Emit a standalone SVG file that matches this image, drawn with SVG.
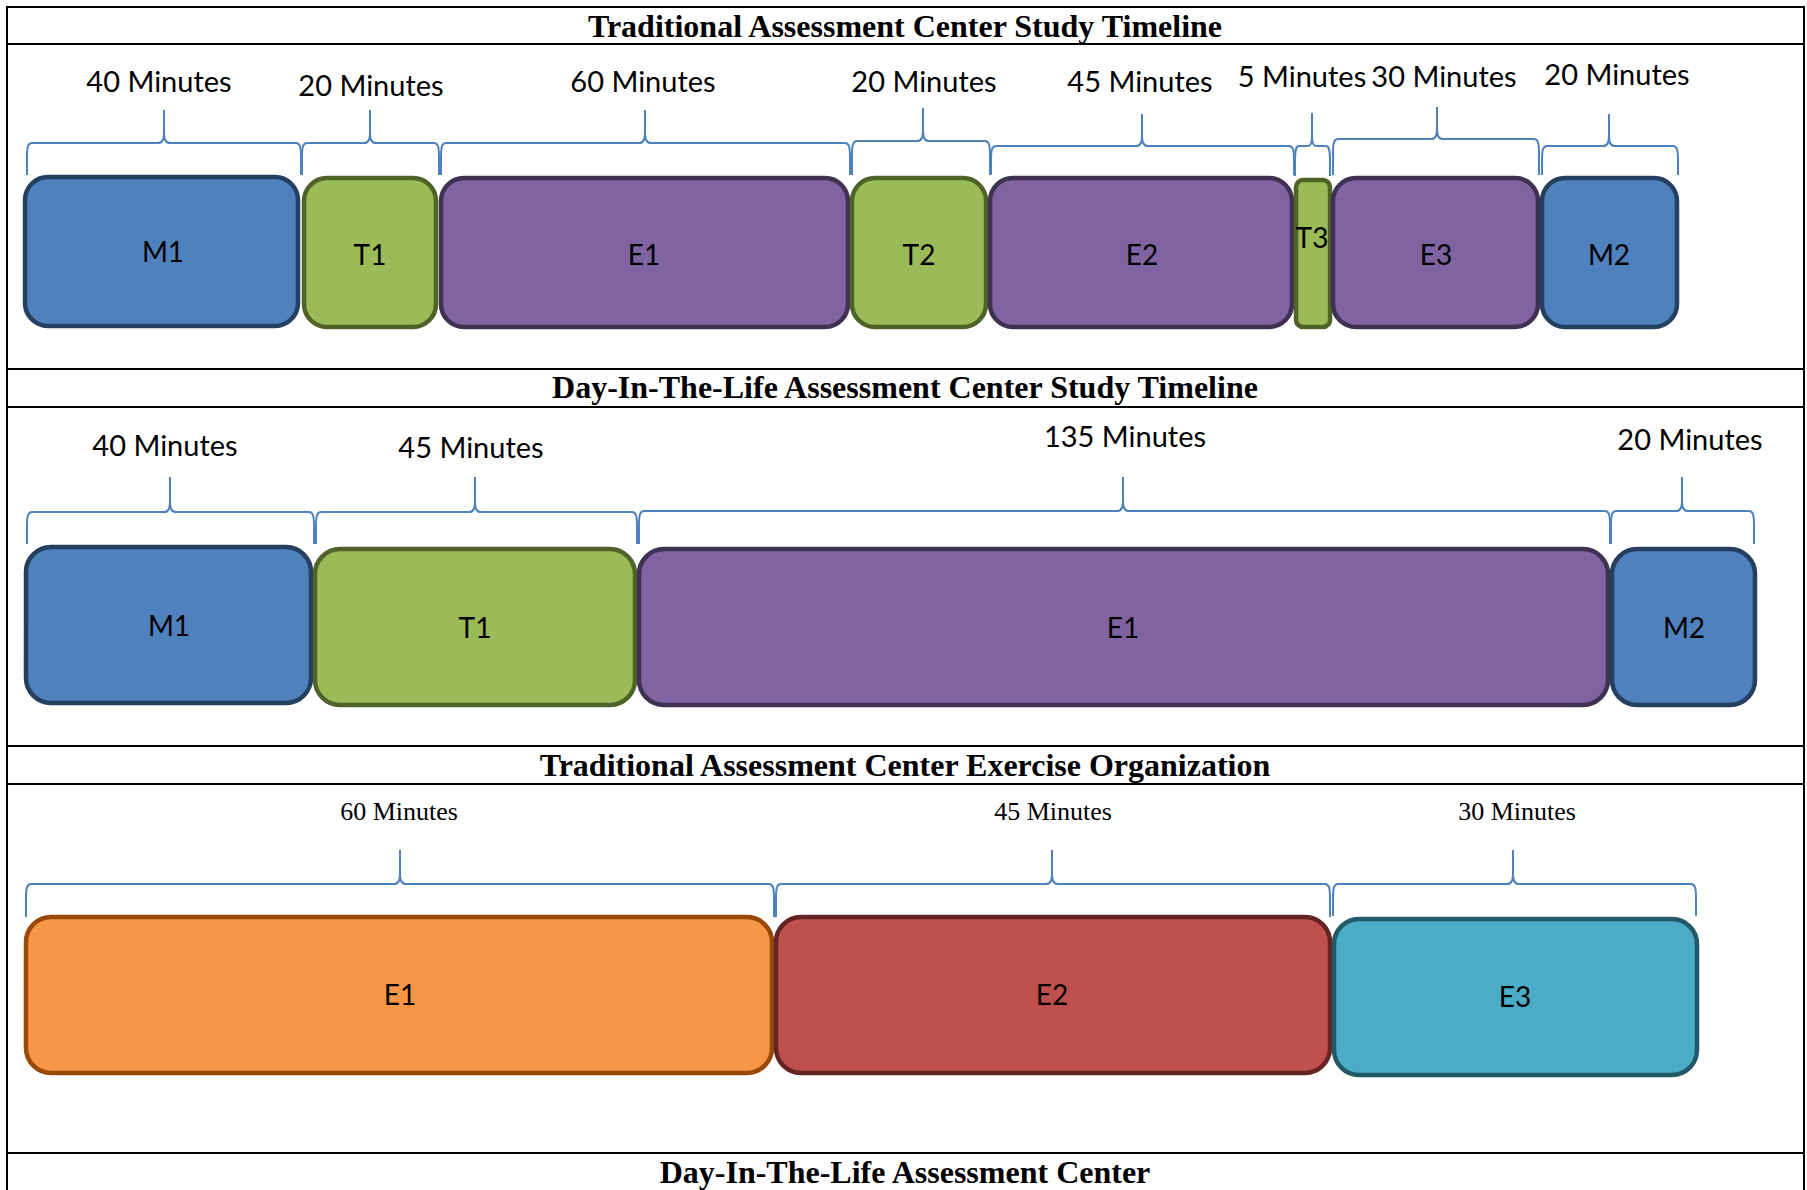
<svg xmlns="http://www.w3.org/2000/svg" width="1807" height="1190" viewBox="0 0 1807 1190">
<style>
.frame{fill:none;stroke:#000;stroke-width:2}
.title{font-family:"Liberation Serif","Times New Roman",serif;font-weight:bold;font-size:32px;fill:#000;text-anchor:middle}
.dur{font-family:Lato,"Liberation Sans",sans-serif;font-size:29px;fill:#000;text-anchor:middle}
.durs{font-family:"Liberation Serif","Times New Roman",serif;font-size:26px;fill:#000;text-anchor:middle}
.lbl{font-family:Lato,"Liberation Sans",sans-serif;font-size:28px;fill:#000;text-anchor:middle}
.brace{fill:none;stroke:#4F81BD;stroke-width:2}
.box{stroke-width:4.5}
.blue{fill:#4F81BD;stroke:#243F60}
.green{fill:#9BBB59;stroke:#4F6228}
.purple{fill:#8064A2;stroke:#3F3151}
.orange{fill:#F79646;stroke:#984807}
.red{fill:#C0504D;stroke:#632423}
.teal{fill:#4BACC6;stroke:#215968}
</style>
<rect width="1807" height="1190" fill="#fff"/>
<g id="frame">
<rect class="frame" x="7" y="7" width="1797" height="1200"/>
<line class="frame" x1="7" y1="44" x2="1804" y2="44"/>
<line class="frame" x1="7" y1="369" x2="1804" y2="369"/>
<line class="frame" x1="7" y1="407" x2="1804" y2="407"/>
<line class="frame" x1="7" y1="746" x2="1804" y2="746"/>
<line class="frame" x1="7" y1="784" x2="1804" y2="784"/>
<line class="frame" x1="7" y1="1153" x2="1804" y2="1153"/>
</g>
<g id="titles">
<text class="title" x="905" y="37">Traditional Assessment Center Study Timeline</text>
<text class="title" x="905" y="398">Day-In-The-Life Assessment Center Study Timeline</text>
<text class="title" x="905" y="776">Traditional Assessment Center Exercise Organization</text>
<text class="title" x="905" y="1183">Day-In-The-Life Assessment Center</text>
</g>
<g id="connectors">
<path class="brace" d="M27,175 L27,157 C27,147 28,143 32,143 L158,143 C163,143 164,139 164,131 L164,110 L164,131 C164,139 165,143 170,143 L296,143 C300,143 301,147 301,157 L301,175"/>
<path class="brace" d="M302,175 L302,157 C302,147 303,143 307,143 L364,143 C369,143 370,139 370,131 L370,110 L370,131 C370,139 371,143 376,143 L434,143 C438,143 439,147 439,157 L439,175"/>
<path class="brace" d="M441,175 L441,157 C441,147 442,143 446,143 L639,143 C644,143 645,139 645,131 L645,110 L645,131 C645,139 646,143 651,143 L845,143 C849,143 850,147 850,157 L850,175"/>
<path class="brace" d="M852,175 L852,155 C852,145 853,141 857,141 L917,141 C922,141 923,137 923,129 L923,108 L923,129 C923,137 924,141 929,141 L985,141 C989,141 990,145 990,155 L990,175"/>
<path class="brace" d="M991,175 L991,160 C991,150 992,146 996,146 L1136,146 C1141,146 1142,142 1142,134 L1142,114 L1142,134 C1142,142 1143,146 1148,146 L1289,146 C1293,146 1294,150 1294,160 L1294,175"/>
<path class="brace" d="M1295,176 L1295,160 C1295,150 1296,146 1299,146 L1308,146 C1311,146 1312,142 1312,136 L1312,113 L1312,136 C1312,142 1313,146 1316,146 L1326,146 C1329,146 1330,150 1330,160 L1330,176"/>
<path class="brace" d="M1333,175 L1333,153 C1333,143 1334,139 1338,139 L1431,139 C1436,139 1437,135 1437,127 L1437,107 L1437,127 C1437,135 1438,139 1443,139 L1534,139 C1538,139 1539,143 1539,153 L1539,175"/>
<path class="brace" d="M1542,175 L1542,160 C1542,150 1543,146 1547,146 L1603,146 C1608,146 1609,142 1609,134 L1609,114 L1609,134 C1609,142 1610,146 1615,146 L1673,146 C1677,146 1678,150 1678,160 L1678,175"/>
<path class="brace" d="M27,544 L27,526 C27,516 28,512 32,512 L164,512 C169,512 170,508 170,500 L170,477 L170,500 C170,508 171,512 176,512 L309,512 C313,512 314,516 314,526 L314,544"/>
<path class="brace" d="M316,544 L316,526 C316,516 317,512 321,512 L469,512 C474,512 475,508 475,500 L475,477 L475,500 C475,508 476,512 481,512 L632,512 C636,512 637,516 637,526 L637,544"/>
<path class="brace" d="M639,544 L639,525 C639,515 640,511 644,511 L1117,511 C1122,511 1123,507 1123,499 L1123,477 L1123,499 C1123,507 1124,511 1129,511 L1605,511 C1609,511 1610,515 1610,525 L1610,544"/>
<path class="brace" d="M1611,544 L1611,525 C1611,515 1612,511 1616,511 L1676,511 C1681,511 1682,507 1682,499 L1682,477 L1682,499 C1682,507 1683,511 1688,511 L1749,511 C1753,511 1754,515 1754,525 L1754,544"/>
<path class="brace" d="M26,917 L26,898 C26,888 27,884 31,884 L394,884 C399,884 400,880 400,872 L400,850 L400,872 C400,880 401,884 406,884 L769,884 C773,884 774,888 774,898 L774,917"/>
<path class="brace" d="M776,917 L776,898 C776,888 777,884 781,884 L1046,884 C1051,884 1052,880 1052,872 L1052,850 L1052,872 C1052,880 1053,884 1058,884 L1325,884 C1329,884 1330,888 1330,898 L1330,917"/>
<path class="brace" d="M1333,916 L1333,898 C1333,888 1334,884 1338,884 L1507,884 C1512,884 1513,880 1513,872 L1513,850 L1513,872 C1513,880 1514,884 1519,884 L1691,884 C1695,884 1696,888 1696,898 L1696,916"/>
</g>
<g id="durations">
<text class="dur" x="159" y="92">40 Minutes</text>
<text class="dur" x="371" y="96">20 Minutes</text>
<text class="dur" x="643" y="92">60 Minutes</text>
<text class="dur" x="924" y="92">20 Minutes</text>
<text class="dur" x="1140" y="92">45 Minutes</text>
<text class="dur" x="1302" y="87">5 Minutes</text>
<text class="dur" x="1444" y="87">30 Minutes</text>
<text class="dur" x="1617" y="85">20 Minutes</text>
<text class="dur" x="165" y="456">40 Minutes</text>
<text class="dur" x="471" y="458">45 Minutes</text>
<text class="dur" x="1125" y="447">135 Minutes</text>
<text class="dur" x="1690" y="450">20 Minutes</text>
<text class="durs" x="399" y="820">60 Minutes</text>
<text class="durs" x="1053" y="820">45 Minutes</text>
<text class="durs" x="1517" y="820">30 Minutes</text>
</g>
<g id="r1-M1"><rect class="box blue" x="25" y="177" width="273" height="149" rx="23"/><text class="lbl" x="163" y="262">M1</text></g>
<g id="r1-T1"><rect class="box green" x="304" y="178" width="132" height="149" rx="23"/><text class="lbl" x="370" y="265">T1</text></g>
<g id="r1-E1"><rect class="box purple" x="441" y="178" width="407" height="149" rx="23"/><text class="lbl" x="644" y="265">E1</text></g>
<g id="r1-T2"><rect class="box green" x="852" y="178" width="134" height="149" rx="23"/><text class="lbl" x="919" y="265">T2</text></g>
<g id="r1-E2"><rect class="box purple" x="990" y="178" width="302" height="149" rx="23"/><text class="lbl" x="1142" y="265">E2</text></g>
<g id="r1-T3"><rect class="box green" x="1296" y="180" width="34" height="147" rx="7"/><text class="lbl" x="1312" y="248">T3</text></g>
<g id="r1-E3"><rect class="box purple" x="1333" y="178" width="205" height="149" rx="23"/><text class="lbl" x="1436" y="265">E3</text></g>
<g id="r1-M2"><rect class="box blue" x="1542" y="178" width="135" height="149" rx="23"/><text class="lbl" x="1609" y="265">M2</text></g>
<g id="r2-M1"><rect class="box blue" x="26" y="547" width="285" height="156" rx="25"/><text class="lbl" x="169" y="636">M1</text></g>
<g id="r2-T1"><rect class="box green" x="315" y="549" width="320" height="156" rx="25"/><text class="lbl" x="475" y="638">T1</text></g>
<g id="r2-E1"><rect class="box purple" x="639" y="549" width="969" height="156" rx="25"/><text class="lbl" x="1123" y="638">E1</text></g>
<g id="r2-M2"><rect class="box blue" x="1612" y="549" width="143" height="156" rx="25"/><text class="lbl" x="1684" y="638">M2</text></g>
<g id="r3-E1"><rect class="box orange" x="26" y="917" width="746" height="156" rx="25"/><text class="lbl" x="400" y="1005">E1</text></g>
<g id="r3-E2"><rect class="box red" x="776" y="917" width="554" height="156" rx="25"/><text class="lbl" x="1052" y="1005">E2</text></g>
<g id="r3-E3"><rect class="box teal" x="1334" y="919" width="363" height="156" rx="25"/><text class="lbl" x="1515" y="1007">E3</text></g>
</svg>
